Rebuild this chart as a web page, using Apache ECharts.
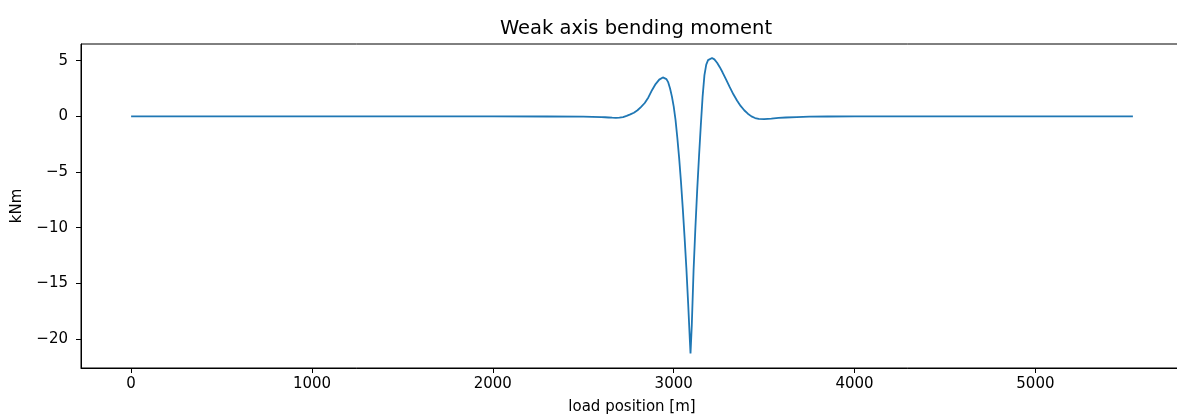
<!DOCTYPE html>
<html>
<head>
<meta charset="utf-8">
<title>Weak axis bending moment</title>
<script src="https://cdn.jsdelivr.net/npm/echarts@6/dist/echarts.min.js"></script>
<style>
  html, body { margin: 0; padding: 0; background: #fff; overflow: hidden; }
  /* the plot frame runs slightly past the right edge of the window */
  #chart { width: 1190px; height: 420px; }
</style>
</head>
<body>
<div id="chart"></div>
<script>
// Load position along the span [m]
const loadPosition = [
  0, 500, 1000, 1500, 2000, 2300, 2500, 2600, 2620, 2640, 2660, 2680, 2700,
  2720, 2740, 2760, 2780, 2800, 2820, 2840, 2860, 2880, 2900, 2920, 2940,
  2950, 2960, 2970, 2980, 2990, 3000, 3010, 3020, 3030, 3040, 3050, 3060,
  3070, 3080, 3090, 3093, 3100, 3110, 3120, 3130, 3140, 3150, 3160, 3170,
  3180, 3190, 3200, 3212, 3225, 3240, 3255, 3270, 3290, 3310, 3330, 3350,
  3370, 3390, 3410, 3430, 3450, 3470, 3500, 3540, 3580, 3620, 3680, 3750,
  3850, 4000, 4500, 5000, 5539
];

// Weak axis bending moment [kNm] at each load position
const bendingMoment = [
  0, 0, 0, 0, 0, -0.01, -0.03, -0.06, -0.08, -0.1, -0.12, -0.13, -0.12,
  -0.06, 0.05, 0.18, 0.33, 0.55, 0.85, 1.2, 1.7, 2.35, 2.9, 3.3, 3.5,
  3.48, 3.35, 3.05, 2.5, 1.8, 0.9, -0.3, -1.9, -3.7, -5.8, -8.2, -10.8,
  -13.6, -16.8, -20.3, -21.3, -18.8, -13.8, -10.0, -6.6, -3.6, -0.8, 1.8, 3.7,
  4.65, 5.05, 5.22, 5.25, 5.12, 4.82, 4.42, 3.96, 3.3, 2.62, 1.98, 1.42,
  0.94, 0.55, 0.24, 0.0, -0.15, -0.23, -0.25, -0.2, -0.14, -0.1, -0.06, -0.03,
  -0.01, 0, 0, 0, 0
];

const xTicks = [0, 1000, 2000, 3000, 4000, 5000];
const yTicks = [-20, -15, -10, -5, 0, 5];

const font = 'DejaVu Sans';
const chart = echarts.init(document.getElementById('chart'), null, { renderer: 'canvas' });

chart.setOption({
  animation: false,
  backgroundColor: '#ffffff',
  title: {
    text: 'Weak axis bending moment',
    left: 631,
    textAlign: 'center',
    top: 14,
    textStyle: { fontFamily: font, fontSize: 19.5, fontWeight: 'normal', color: '#000' }
  },
  grid: {
    left: 81, top: 44, width: 1102, height: 327,
    show: true, borderColor: '#000', borderWidth: 1, backgroundColor: 'transparent'
  },
  xAxis: {
    type: 'value',
    min: -277, max: 5816,
    name: 'load position [m]',
    nameLocation: 'middle',
    nameGap: 32,
    nameTextStyle: { fontFamily: font, fontSize: 15, color: '#000' },
    axisLine: { show: true, onZero: false, lineStyle: { color: '#000', width: 1 } },
    axisTick: { show: true, length: 5, customValues: xTicks, lineStyle: { color: '#000' } },
    axisLabel: { customValues: xTicks, margin: 9, fontFamily: font, fontSize: 15, color: '#000',
      formatter: v => String(v) },
    splitLine: { show: false }
  },
  yAxis: {
    type: 'value',
    min: -22.6, max: 6.5,
    name: 'kNm',
    nameLocation: 'middle',
    nameGap: 56,
    nameRotate: 90,
    nameTextStyle: { fontFamily: font, fontSize: 15, color: '#000' },
    axisLine: { show: true, onZero: false, lineStyle: { color: '#000', width: 1 } },
    axisTick: { show: true, length: 5, customValues: yTicks, lineStyle: { color: '#000' } },
    axisLabel: { customValues: yTicks, margin: 13, fontFamily: font, fontSize: 15, color: '#000',
      formatter: v => (v < 0 ? '\u2212' + Math.abs(v) : String(v)) },
    splitLine: { show: false }
  },
  series: [{
    type: 'line',
    data: loadPosition.map((x, i) => [x, bendingMoment[i]]),
    showSymbol: false,
    smooth: false,
    lineStyle: { color: '#1f77b4', width: 1.8 },
    itemStyle: { color: '#1f77b4' }
  }]
});
</script>
</body>
</html>
